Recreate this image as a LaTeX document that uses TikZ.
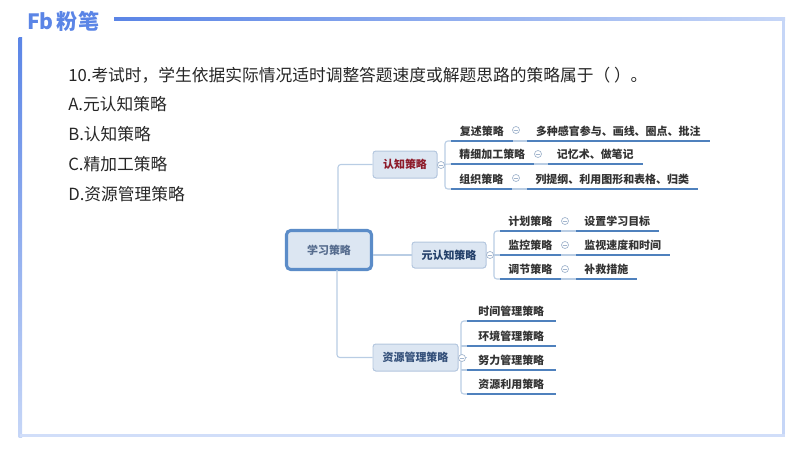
\documentclass[tikz,border=0pt]{standalone}
\usepackage{fontspec}
\setmainfont{Noto Sans CJK SC}
\usepackage{tikz}
\usetikzlibrary{calc}
\definecolor{framea}{HTML}{5B85E6}
\definecolor{frameb}{HTML}{C6D6F7}
\definecolor{boxfill}{HTML}{DCE6F2}
\definecolor{boxline}{HTML}{B3C6DE}
\definecolor{rootline}{HTML}{5B8CC8}
\definecolor{linkline}{HTML}{B9CDE4}
\definecolor{underline}{HTML}{4F81BD}
\definecolor{dotline}{HTML}{A3B6CE}
\definecolor{roottext}{HTML}{566C8E}
\definecolor{metatext}{HTML}{24406A}
\definecolor{restext}{HTML}{34507A}
\definecolor{cogtext}{HTML}{8E1B2A}
\tikzset{
  topic/.style={draw=boxline,fill=boxfill,line width=0.7pt,rounded corners=2pt,font=\bfseries\fontsize{7.8}{9}\selectfont,inner sep=0pt},
  rootbox/.style={draw=rootline,fill=boxfill,line width=2.2pt,rounded corners=3pt,font=\bfseries\fontsize{7.8}{9}\selectfont,text=roottext,inner sep=0pt},
  leaf/.style={font=\bfseries\fontsize{7.8}{9}\selectfont,text=black!80,inner sep=0pt,anchor=south west},
  link/.style={draw=linkline,line width=0.8pt,rounded corners=2pt},
  stroke/.style={draw=underline,line width=1.2pt},
  fold/.style={circle,draw=dotline,fill=white,line width=0.5pt,minimum size=5pt,inner sep=0pt,
    path picture={\draw[dotline,line width=0.5pt] ($(path picture bounding box.west)+(1.5,0)$) -- ($(path picture bounding box.east)+(-1.5,0)$);}},
  option/.style={font=\fontsize{11.9}{14}\selectfont,text=black!85,anchor=west,inner sep=0pt}
}
\begin{document}
\begin{tikzpicture}[x=0.025cm,y=-0.025cm]
\useasboundingbox (0,0) rectangle (800,450);
% frame
\shade[left color=framea,right color=frameb] (114,17.5) rectangle (785,20.5);
\shade[top color=framea,bottom color=frameb] (18.5,37) rectangle (22,437);
\fill[frameb] (781.5,20) rectangle (785,437);
\fill[frameb!80!white] (20,433.5) rectangle (785,437);
% logo
\node[font=\bfseries\fontsize{15}{16}\selectfont,text=framea,inner sep=0pt] (logoa) at (40.5,21) {Fb};
\node[font=\bfseries\fontsize{15}{16}\selectfont,text=framea,inner sep=0pt] (logob) at (78,21) {粉笔};
% question
\node[option] (question) at (68,75) {10.考试时，学生依据实际情况适时调整答题速度或解题思路的策略属于（ ）。};
\node[option] (opta) at (68,104) {A.元认知策略};
\node[option] (optb) at (68,134) {B.认知策略};
\node[option] (optc) at (68,164) {C.精加工策略};
\node[option] (optd) at (68,194) {D.资源管理策略};
% topics
\node[rootbox,minimum width=85*0.025cm,minimum height=39*0.025cm] (root) at (329,250) {学习策略};
\node[topic,minimum width=64*0.025cm,minimum height=27*0.025cm,text=cogtext] (cog) at (405,164.5) {认知策略};
\node[topic,minimum width=74*0.025cm,minimum height=26*0.025cm,text=metatext] (meta) at (449,255) {元认知策略};
\node[topic,minimum width=85*0.025cm,minimum height=27*0.025cm,text=restext] (res) at (415.5,357.5) {资源管理策略};
\coordinate (roottop) at (338,230);
\coordinate (rootbot) at (337,270);
\draw[link] (roottop) |- (cog.west);
\draw[link] (root.east |- meta.west) -- (meta.west);
\draw[link] (rootbot) |- (res.west);
% leaves
\foreach \name/\x/\y/\w/\txt in {
  a1/451/141/61/复述策略,a2/527/141/182/多种感官参与、画线、圈点、批注,
  b1/451/164/82/精细加工策略,b2/548/164/94/记忆术、做笔记,
  c1/451/189/60/组织策略,c2/527/189/170/列提纲、利用图形和表格、归类,
  d1/500/231/60/计划策略,d2/576/231/82/设置学习目标,
  e1/500/255/60/监控策略,e2/576/255/93/监视速度和时间,
  f1/500/279/60/调节策略,f2/576/279/60/补救措施,
  g1/467/321/88/时间管理策略,h1/467/346/88/环境管理策略,
  i1/467/370/88/努力管理策略,j1/467/394/88/资源利用策略}
  \node[leaf,minimum width=\w*0.025cm,minimum height=19*0.025cm] (\name) at (\x,\y) {\txt};
% links between the leaves
\foreach \a/\b in {a1/a2,b1/b2,c1/c2,d1/d2,e1/e2,f1/f2}
  \draw[link] (\a.south east) -- (\b.south west);
\draw[link] (cog.east) -- (b1.south west);
\draw[link] (a1.south west) -- ++(-6,0) |- (c1.south west);
\draw[link] (meta.east) -- (e1.south west);
\draw[link] (d1.south west) -- ++(-6,0) |- (f1.south west);
\draw[link] (g1.south west) -- ++(-6,0) |- (j1.south west);
\draw[link] (res.east) -- (i1.south west |- res.east);
\foreach \a in {h1,i1}
  \draw[link] (\a.south west) -- ++(-6,0);
% underlines
\foreach \a in {a1,a2,b1,b2,c1,c2,d1,d2,e1,e2,f1,f2,g1,h1,i1,j1}
  \draw[stroke] (\a.south west) -- (\a.south east);
% fold marks
\node[fold] (cogfold) at (441,165) {};
\node[fold] (metafold) at (490,255) {};
\node[fold] (resfold) at (462,358) {};
\foreach \name/\x/\y in {afold/516/130,bfold/538/154,cfold/516/178,
  dfold/565/221,efold/565/245,ffold/565/269}
  \node[fold] (\name) at (\x,\y) {};
\end{tikzpicture}
\end{document}
